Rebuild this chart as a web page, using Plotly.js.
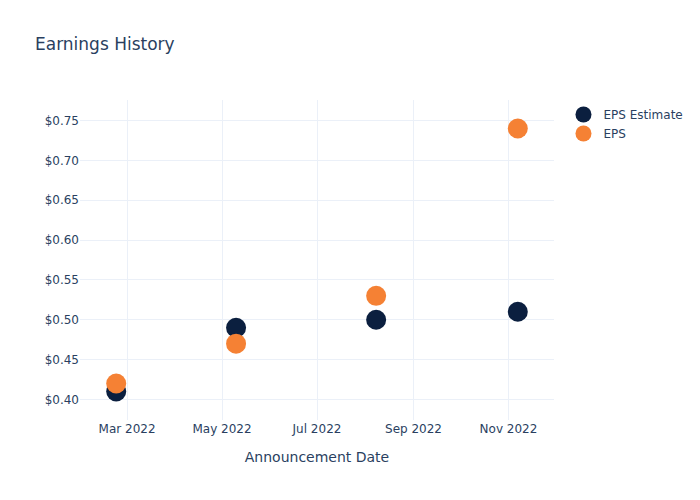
<!DOCTYPE html>
<html>
<head>
<meta charset="utf-8">
<script src="https://cdn.plot.ly/plotly-3.0.1.min.js"></script>
<style>html,body{margin:0;padding:0;}#chart{width:700px;height:500px;}</style>
</head>
<body>
<div id="chart"></div>
<script>
const dates = ["2022-02-22", "2022-05-10", "2022-08-08", "2022-11-07"];
const epsEstimate = [0.41, 0.49, 0.50, 0.51];
const eps = [0.42, 0.47, 0.53, 0.74];

const traces = [
  {x: dates, y: epsEstimate, name: "EPS Estimate", type: "scatter", mode: "markers",
   marker: {color: "#0b1f3f", size: 20}},
  {x: dates, y: eps, name: "EPS", type: "scatter", mode: "markers",
   marker: {color: "#f58134", size: 20}}
];
const layout = {
  width: 700, height: 500,
  paper_bgcolor: "#fff", plot_bgcolor: "#fff",
  font: {family: "'DejaVu Sans', verdana, arial, sans-serif", color: "#2a3f5f"},
  title: {text: "Earnings History", x: 0.05, font: {size: 17}},
  xaxis: {title: {text: "Announcement Date", standoff: 17}, automargin: true, type: "date", gridcolor: "#EBF0F8", zeroline: false, showline: false, ticks: ""},
  yaxis: {tickprefix: "$", tickformat: ".2f", gridcolor: "#EBF0F8", zeroline: false, showline: false, ticks: "", automargin: true},
  legend: {font: {size: 12}},
  hovermode: "closest"
};
Plotly.newPlot("chart", traces, layout, {displayModeBar: false});
</script>
</body>
</html>
